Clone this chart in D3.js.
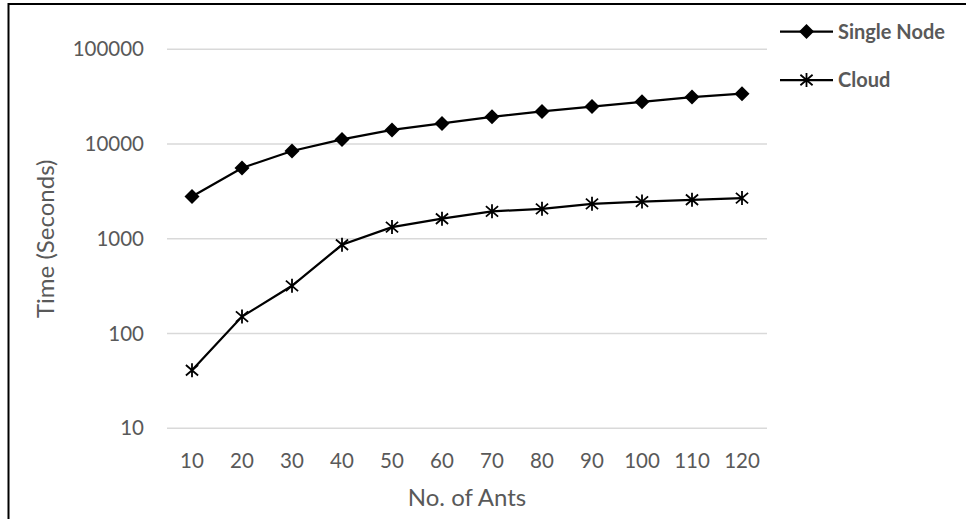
<!DOCTYPE html>
<html>
<head>
<meta charset="utf-8">
<script src="https://cdn.jsdelivr.net/npm/d3@7"></script>
<style>
  body { margin: 0; background: #fff; }
  text { font-family: Lato, "Open Sans", sans-serif; fill: #595959; }
</style>
</head>
<body>
<div id="chart"></div>
<script>
// data
const ants = ["10", "20", "30", "40", "50", "60", "70", "80", "90", "100", "110", "120"]
const singleNode = [2800, 5600, 8450, 11200, 14100, 16500, 19400, 22100, 24900, 27900, 31300, 34000]
const cloud = [41, 151, 319, 865, 1330, 1630, 1950, 2070, 2340, 2470, 2580, 2690]
const yTicks = [10, 100, 1000, 10000, 100000]

const width = 966, height = 519
const plot = {left: 167, right: 767, top: 49.3, bottom: 428.3}

const svg = d3.select("#chart")
  .append("svg")
    .attr("width", width)
    .attr("height", height)

// outer frame (cropped on right and bottom)
svg.append("rect")
  .attr("x", 8.5).attr("y", 4)
  .attr("width", 980).attr("height", 540)
  .attr("fill", "none")
  .attr("stroke", "#000")
  .attr("stroke-width", 2)

const x = d3.scaleBand()
  .domain(ants)
  .range([plot.left, plot.right])
const cx = d => x(d) + x.bandwidth() / 2

const y = d3.scaleLog()
  .domain([10, 100000])
  .range([plot.bottom, plot.top])

// gridlines
svg.append("g")
  .selectAll("line")
  .data(yTicks)
  .join("line")
    .attr("x1", plot.left).attr("x2", plot.right)
    .attr("y1", d => y(d)).attr("y2", d => y(d))
    .attr("stroke", "#d9d9d9")
    .attr("stroke-width", 1.5)

// y tick labels
svg.append("g")
  .selectAll("text")
  .data(yTicks)
  .join("text")
    .attr("x", plot.left - 23)
    .attr("y", d => y(d))
    .attr("dy", "0.35em")
    .attr("text-anchor", "end")
    .style("font-size", "20.5px")
    .text(d => d3.format("d")(d))

// x tick labels
svg.append("g")
  .selectAll("text")
  .data(ants)
  .join("text")
    .attr("x", d => cx(d))
    .attr("y", 461)
    .attr("dy", "0.35em")
    .attr("text-anchor", "middle")
    .style("font-size", "20.5px")
    .text(d => d)

// axis titles
svg.append("text")
  .attr("x", (plot.left + plot.right) / 2)
  .attr("y", 498)
  .attr("dy", "0.35em")
  .attr("text-anchor", "middle")
  .style("font-size", "24px")
  .text("No. of Ants")

svg.append("text")
  .attr("transform", `translate(46, ${(plot.top + plot.bottom) / 2}) rotate(-90)`)
  .attr("dy", "0.35em")
  .attr("text-anchor", "middle")
  .style("font-size", "24px")
  .text("Time (Seconds)")

const line = d3.line()
  .x((d, i) => cx(ants[i]))
  .y(d => y(d))

const diamond = (g, px, py) => {
  g.append("path")
    .attr("d", `M${px},${py - 7.5}L${px + 7.5},${py}L${px},${py + 7.5}L${px - 7.5},${py}Z`)
    .attr("fill", "#000")
}
const star = (g, px, py) => {
  const r = 7
  g.append("path")
    .attr("d", `M${px},${py - r}V${py + r}M${px - r * 0.87},${py - r * 0.75}L${px + r * 0.87},${py + r * 0.75}M${px - r * 0.87},${py + r * 0.75}L${px + r * 0.87},${py - r * 0.75}`)
    .attr("stroke", "#000")
    .attr("stroke-width", 1.8)
    .attr("fill", "none")
}

const series = [
  {name: "Single Node", values: singleNode, marker: diamond},
  {name: "Cloud", values: cloud, marker: star}
]

series.forEach((s, k) => {
  const g = svg.append("g")
  g.append("path")
    .datum(s.values)
    .attr("d", line)
    .attr("fill", "none")
    .attr("stroke", "#000")
    .attr("stroke-width", 2.25)
  s.values.forEach((v, i) => s.marker(g, cx(ants[i]), y(v)))

  // legend
  const ly = 31.5 + k * 48.5
  const lg = svg.append("g")
  lg.append("line")
    .attr("x1", 780).attr("x2", 833)
    .attr("y1", ly).attr("y2", ly)
    .attr("stroke", "#000")
    .attr("stroke-width", 2.25)
  s.marker(lg, 806.5, ly)
  lg.append("text")
    .attr("x", 838)
    .attr("y", ly)
    .attr("dy", "0.35em")
    .style("font-size", "20px")
    .style("font-weight", "bold")
    .text(s.name)
})
</script>
</body>
</html>
